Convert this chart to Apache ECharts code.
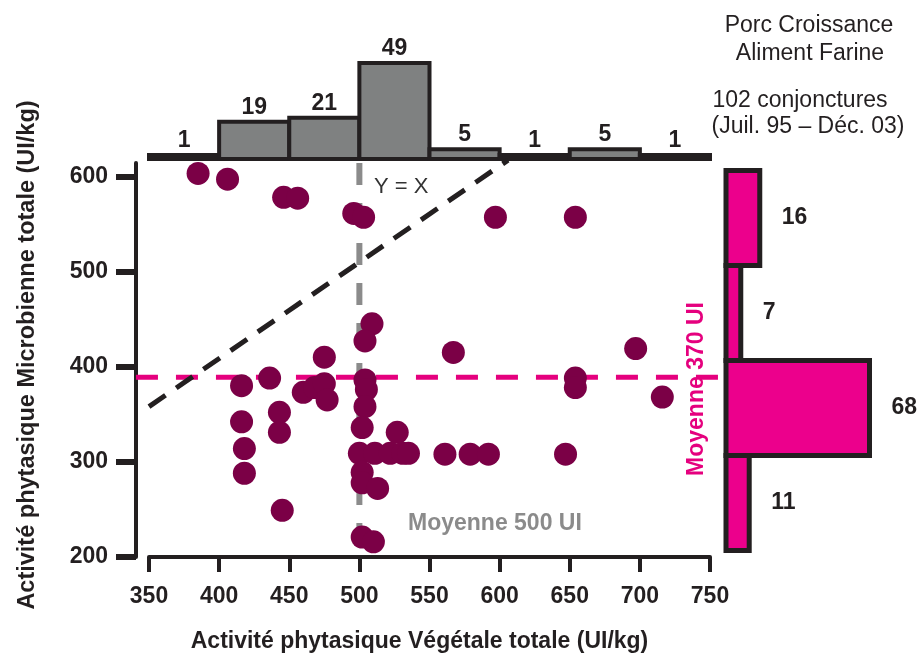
<!DOCTYPE html>
<html><head><meta charset="utf-8">
<script src="https://cdn.jsdelivr.net/npm/echarts@6/dist/echarts.min.js"></script>
<style>html,body{margin:0;padding:0;background:#fff}#c{width:917px;height:655px}</style>
</head><body><div id="c"></div>
<script>
// ---- data ----
const xTicks = [350, 400, 450, 500, 550, 600, 650, 700, 750];
const yTicks = [200, 300, 400, 500, 600];
// top histogram (Végétale): bin start, bin end, count
const xBinStart = [350, 400, 450, 500, 550, 600, 650, 700];
const xBinEnd   = [400, 450, 500, 550, 600, 650, 700, 750];
const xCounts   = [1, 19, 21, 49, 5, 1, 5, 1];
// right histogram (Microbienne): bin start, bin end, count
const yBinStart = [500, 400, 300, 200];
const yBinEnd   = [600, 500, 400, 300];
const yCounts   = [16, 7, 68, 11];
const points = [
  [385, 603], [406, 597], [446, 578], [456, 577], [496, 561], [503, 557], [597, 557], [654, 557],
  [509, 445], [504, 427], [504, 386], [505, 376], [504, 358], [502, 336], [527, 331],
  [500, 309], [511, 309], [522, 309], [531, 309], [535, 309],
  [502, 289], [502, 278], [513, 272], [502, 221], [510, 216],
  [416, 380], [436, 388], [460, 373], [468, 378], [475, 382], [477, 365], [475, 410],
  [416, 342], [443, 352], [443, 331], [418, 314], [418, 288], [445, 249],
  [561, 308], [579, 308], [592, 308], [647, 308], [567, 415], [654, 388], [654, 378],
  [697, 419], [716, 368]
];
const meanXLine = [[500, 614], [500, 200]];
const meanYLine = [[340.7, 389], [757, 389]];
const identityLine = [[350, 358], [606, 617]];
const titleLines = ['Porc Croissance', 'Aliment Farine', '102 conjonctures', '(Juil. 95 – Déc. 03)'];

const FONT = '"Liberation Sans", Arial, Helvetica, sans-serif';
const INK = '#231f20';
const chart = echarts.init(document.getElementById('c'), null, {renderer: 'canvas'});
const boldText = {fontFamily: FONT, fontWeight: 'bold', fontSize: 23, color: INK};

const topHistData = xCounts.map((c, i) => [xBinStart[i], xBinEnd[i], c]);
const rightHistData = yCounts.map((c, i) => [yBinStart[i], yBinEnd[i], c]);

function renderTopBin(params, api) {
  const p0 = api.coord([api.value(0), 0]);
  const p1 = api.coord([api.value(1), api.value(2)]);
  let h = p0[1] - p1[1];
  if (h < 4) h = 4;
  const top = p0[1] - h;
  return {
    type: 'group',
    children: [
      {type: 'rect', shape: {x: p0[0], y: top, width: p1[0] - p0[0], height: h},
       style: {fill: '#7f8181', stroke: INK, lineWidth: 4}},
      {type: 'text', x: (p0[0] + p1[0]) / 2, y: top - 3,
       style: {text: String(api.value(2)), font: 'bold 23px ' + FONT, fill: INK, align: 'center', verticalAlign: 'bottom'}}
    ]
  };
}
function renderRightBin(params, api) {
  const p0 = api.coord([0, api.value(1)]);
  const p1 = api.coord([api.value(2), api.value(0)]);
  const w = p1[0] - p0[0];
  return {
    type: 'group',
    children: [
      {type: 'rect', shape: {x: p0[0], y: p0[1], width: w, height: p1[1] - p0[1]},
       style: {fill: '#ec008c', stroke: INK, lineWidth: 5}},
      {type: 'text', x: p1[0] + 22, y: (p0[1] + p1[1]) / 2,
       style: {text: String(api.value(2)), font: 'bold 23px ' + FONT, fill: INK, align: 'left', verticalAlign: 'middle'}}
    ]
  };
}
function renderMeanY(params, api) {
  if (params.dataIndex !== 0) return null;
  const a = api.coord([meanYLine[0][0], meanYLine[0][1]]);
  const b = api.coord([meanYLine[1][0], meanYLine[1][1]]);
  return {type: 'line', shape: {x1: a[0], y1: a[1], x2: b[0], y2: b[1]},
          style: {stroke: '#e5007e', lineWidth: 5, lineDash: [22, 18]}};
}

chart.setOption({
  animation: false,
  backgroundColor: '#fff',
  grid: [
    {left: 149, width: 561, top: 163, height: 394, outerBoundsMode: 'none', containLabel: false},
    {left: 149, width: 561, top: 63, height: 96, outerBoundsMode: 'none', containLabel: false},
    {left: 726, width: 143.5, top: 170.5, height: 380, outerBoundsMode: 'none', containLabel: false}
  ],
  xAxis: [
    {
      type: 'value', gridIndex: 0, min: 350, max: 750, interval: 50,
      axisLine: {show: true, lineStyle: {color: INK, width: 4}},
      axisTick: {show: true, length: 15, lineStyle: {color: INK, width: 4}},
      axisLabel: Object.assign({margin: 28, customValues: xTicks}, boldText),
      splitLine: {show: false},
      name: 'Activité phytasique Végétale totale (UI/kg)',
      nameLocation: 'middle', nameGap: 73,
      nameTextStyle: Object.assign({padding: [0, 20, 0, 0]}, boldText)
    },
    {type: 'value', gridIndex: 1, min: 350, max: 750, show: false},
    {type: 'value', gridIndex: 2, min: 0, max: 68, show: false}
  ],
  yAxis: [
    {
      type: 'value', gridIndex: 0, min: 200, max: 614, offset: 13,
      axisLine: {show: true, lineStyle: {color: INK, width: 4}},
      axisTick: {show: true, length: 20, customValues: yTicks, lineStyle: {color: INK, width: 6}},
      axisLabel: Object.assign({margin: 28, customValues: yTicks}, boldText),
      splitLine: {show: false},
      name: 'Activité phytasique Microbienne totale (UI/kg)',
      nameLocation: 'middle', nameGap: 96,
      nameTextStyle: Object.assign({padding: [0, 0, 0, 10], fontSize: 23.5}, {fontFamily: FONT, fontWeight: 'bold', color: INK})
    },
    {type: 'value', gridIndex: 1, min: 0, max: 49, show: false},
    {type: 'value', gridIndex: 2, min: 200, max: 600, show: false}
  ],
  graphic: [
    {type: 'text', x: 809, y: 26, style: {text: titleLines[0], font: '23px ' + FONT, fill: INK, align: 'center', verticalAlign: 'middle'}},
    {type: 'text', x: 810, y: 54, style: {text: titleLines[1], font: '23px ' + FONT, fill: INK, align: 'center', verticalAlign: 'middle'}},
    {type: 'text', x: 800, y: 101, style: {text: titleLines[2], font: '23px ' + FONT, fill: INK, align: 'center', verticalAlign: 'middle'}},
    {type: 'text', x: 808, y: 127, style: {text: titleLines[3], font: '23px ' + FONT, fill: INK, align: 'center', verticalAlign: 'middle'}},
    {type: 'text', x: 374, y: 187, style: {text: 'Y = X', font: '22px ' + FONT, fill: '#333', align: 'left', verticalAlign: 'middle'}},
    {type: 'text', x: 408, y: 524, style: {text: 'Moyenne 500 UI', font: 'bold 23px ' + FONT, fill: '#8b8b8b', align: 'left', verticalAlign: 'middle'}},
    {type: 'text', x: 697, y: 389, rotation: Math.PI / 2, style: {text: 'Moyenne 370 UI', font: 'bold 23px ' + FONT, fill: '#e5007e', align: 'center', verticalAlign: 'middle'}}
  ],
  series: [
    {
      type: 'line', xAxisIndex: 0, yAxisIndex: 0, data: identityLine, symbol: 'none', silent: true, z: 2, clip: false,
      lineStyle: {color: INK, width: 5, type: [20, 13]}
    },
    {
      type: 'line', xAxisIndex: 0, yAxisIndex: 0, data: meanXLine, symbol: 'none', silent: true, z: 2,
      lineStyle: {color: '#8b8b8b', width: 6, type: [22, 18]}
    },
    {
      type: 'custom', xAxisIndex: 0, yAxisIndex: 0, data: meanYLine, renderItem: renderMeanY, silent: true, z: 2, clip: false
    },
    {
      type: 'scatter', xAxisIndex: 0, yAxisIndex: 0, data: points, symbolSize: 23, z: 5,
      itemStyle: {color: '#7b0046', opacity: 1}
    },
    {
      type: 'custom', xAxisIndex: 1, yAxisIndex: 1, data: topHistData, renderItem: renderTopBin, silent: true, clip: false
    },
    {
      type: 'custom', xAxisIndex: 2, yAxisIndex: 2, data: rightHistData, renderItem: renderRightBin, silent: true, clip: false
    }
  ]
});
</script>
</body></html>
